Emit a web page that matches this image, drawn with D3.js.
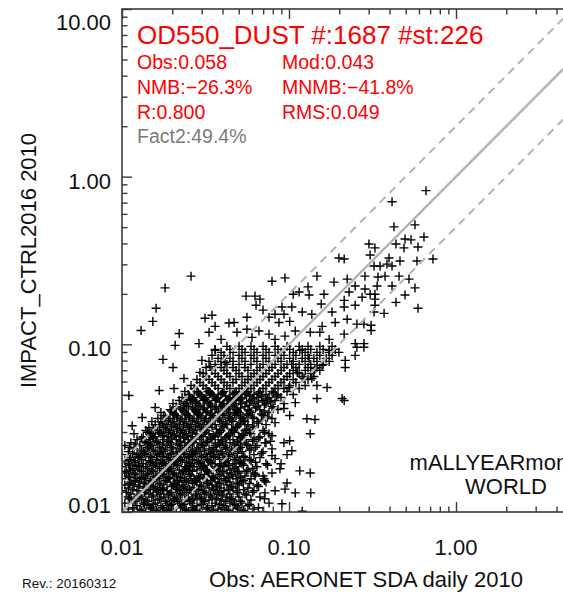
<!DOCTYPE html>
<html>
<head>
<meta charset="utf-8">
<script src="https://cdn.jsdelivr.net/npm/d3@7"></script>
<style>
	body { margin: 0; background: #fff; }
	svg { display: block; font-family: "Liberation Sans", Arial, Helvetica, sans-serif; }
</style>
</head>
<body>
<div id="chart"></div>
<script>
// axis ticks and labels
var majorTicks = [0.01, 0.1, 1, 10];
var tickLabels = ["0.01", "0.10", "1.00", "10.00"];
var minorSteps = [2, 3, 4, 5, 6, 7, 8, 9];

// text blocks
var titleText = "OD550_DUST #:1687 #st:226";
var statsLeft = ["Obs:0.058", "NMB:\u221226.3%", "R:0.800"];
var statsRight = ["Mod:0.043", "MNMB:\u221241.8%", "RMS:0.049"];
var fact2Text = "Fact2:49.4%";
var regionText = ["mALLYEARmonthly", "WORLD"];
var xTitle = "Obs: AERONET SDA daily 2010";
var yTitle = "IMPACT_CTRL2016 2010";
var revText = "Rev.: 20160312";

// 1:1 and factor-2 lines (model = factor * obs)
var refFactors = [1, 2, 0.5];

// scattered stations [obs, mod]
var outerPoints = [
	[0.0259,0.255],[0.0181,0.217],[0.0160,0.164],[0.0153,0.137],[0.0130,0.121],[0.0220,0.116],[0.0314,0.143],
	[0.0346,0.149],[0.0361,0.128],[0.0332,0.118],[0.0392,0.107],[0.0437,0.134],[0.0289,0.101],[0.0208,0.0986],
	[0.0110,0.0495],[0.0176,0.0813],[0.0202,0.0728],
	[0.0791,0.238],[0.0946,0.249],[0.147,0.255],[0.199,0.327],[0.186,0.235],[0.0553,0.194],[0.0626,0.194],
	[0.0670,0.186],[0.0635,0.171],[0.0699,0.160],[0.106,0.199],[0.115,0.205],[0.130,0.220],[0.132,0.197],
	[0.162,0.199],[0.156,0.174],[0.0908,0.167],[0.104,0.167],[0.0825,0.151],[0.0933,0.151],[0.120,0.156],
	[0.137,0.151],[0.0560,0.145],[0.0469,0.135],[0.0759,0.145],[0.0871,0.135],[0.101,0.137],[0.181,0.156],
	[0.189,0.135],[0.158,0.128],[0.0560,0.123],[0.0488,0.118],[0.0661,0.120],[0.0759,0.115],[0.109,0.120],
	[0.134,0.118],[0.153,0.118],[0.174,0.107],[0.0600,0.110],[0.0825,0.107],[0.0946,0.112],
	[0.661,0.825],[0.414,0.709],[0.425,0.502],[0.568,0.516],[0.495,0.425],[0.538,0.420],[0.643,0.437],
	[0.301,0.397],[0.327,0.376],[0.437,0.397],[0.488,0.376],[0.592,0.381],[0.306,0.341],[0.397,0.327],
	[0.462,0.314],[0.584,0.314],[0.728,0.323],[0.214,0.323],[0.323,0.293],[0.351,0.293],[0.386,0.301],
	[0.414,0.293],[0.285,0.255],[0.341,0.252],[0.376,0.255],[0.456,0.255],[0.523,0.245],[0.223,0.245],
	[0.249,0.223],[0.414,0.223],[0.568,0.217],[0.337,0.223],[0.285,0.214],[0.229,0.205],[0.306,0.199],
	[0.327,0.199],[0.495,0.197],[0.274,0.191],[0.327,0.186],[0.214,0.183],[0.437,0.178],[0.249,0.171],
	[0.327,0.171],[0.214,0.167],[0.592,0.164],[0.323,0.156],[0.371,0.153],[0.223,0.141],[0.255,0.132],
	[0.281,0.132],[0.310,0.130],[0.214,0.115],[0.310,0.121],[0.249,0.101],[0.281,0.101],
	[0.249,0.0859],[0.217,0.0802],[0.217,0.0728],[0.214,0.0462],[0.255,0.0960],[0.281,0.0960],
	[0.208,0.0475],[0.147,0.0475],[0.128,0.0360],[0.143,0.0356],[0.134,0.0293],[0.101,0.0266],[0.104,0.0232],
	[0.116,0.0176],[0.134,0.0171],[0.0973,0.0149],[0.109,0.0130],[0.135,0.0130],[0.0946,0.0137],[0.0908,0.0112],
	[0.120,0.0101],[0.0709,0.0158],[0.0718,0.0130],[0.0626,0.0164],[0.0825,0.0208],[0.0933,0.0259],
	[0.0791,0.0217],[0.0883,0.0181],
	[0.169,0.0553],[0.147,0.0568],[0.137,0.0626],[0.123,0.0626],[0.143,0.0718],[0.158,0.0749],[0.174,0.0921],
	[0.199,0.0896],[0.116,0.0921],[0.132,0.0825],[0.104,0.0759],[0.112,0.0680],[0.100,0.0553],[0.109,0.0449],
	[0.0933,0.0414],[0.101,0.0376],[0.0825,0.0341],[0.0791,0.0285],[0.0718,0.0259],
	[0.0167,0.0530],[0.0205,0.0545],[0.0235,0.0626],[0.0158,0.0420],[0.0132,0.0366],[0.0115,0.0327],
	[0.0293,0.0680],[0.0337,0.0738],[0.0301,0.0802],[0.0361,0.0921],[0.0414,0.0780],[0.0255,0.0469],[0.0327,0.0523]
];

// dense core: one modelled value per row, observed values read along it
var coreMod = [0.0100,0.0104,0.0109,0.0113,0.0118,0.0123,0.0128,0.0134,0.0139,0.0145,0.0151,0.0158,0.0164,0.0171,
	0.0178,0.0186,0.0194,0.0202,0.0211,0.0220,0.0229,0.0238,0.0249,0.0259,0.0270,0.0281,0.0293,0.0306,0.0319,
	0.0332,0.0346,0.0361,0.0376,0.0392,0.0408,0.0425,0.0443,0.0462,0.0482,0.0502,0.0523,0.0545,0.0568,0.0592,
	0.0617,0.0643,0.0670,0.0699,0.0728,0.0759,0.0791,0.0825,0.0859,0.0896,0.0933,0.0973];
var coreObs = [
	[0.0118,0.0139,0.0164,0.0186,0.0211,0.0249,0.0293,0.0332,0.0392,0.0462,0.0545,0.0699],
	[0.0109,0.0128,0.0151,0.0178,0.0202,0.0238,0.0270,0.0319,0.0376,0.0425,0.0502,0.0617],
	[0.0123,0.0145,0.0171,0.0194,0.0229,0.0281,0.0346,0.0408,0.0482,0.0568],
	[0.0104,0.0134,0.0158,0.0186,0.0220,0.0259,0.0306,0.0361,0.0443,0.0523,0.0759],
	[0.0118,0.0139,0.0164,0.0202,0.0238,0.0270,0.0332,0.0392,0.0462,0.0592],
	[0.0109,0.0128,0.0151,0.0178,0.0211,0.0249,0.0293,0.0346,0.0425,0.0502,0.0670],
	[0.0113,0.0145,0.0171,0.0194,0.0229,0.0281,0.0319,0.0376,0.0443,0.0545],
	[0.0100,0.0123,0.0139,0.0164,0.0186,0.0220,0.0259,0.0306,0.0361,0.0408,0.0482,0.0617,0.0825],
	[0.0109,0.0134,0.0158,0.0178,0.0211,0.0238,0.0270,0.0332,0.0392,0.0462,0.0568],
	[0.0104,0.0118,0.0145,0.0171,0.0202,0.0229,0.0293,0.0346,0.0425,0.0502,0.0643],
	[0.0113,0.0128,0.0151,0.0186,0.0220,0.0249,0.0281,0.0319,0.0376,0.0443,0.0523,0.0728],
	[0.0100,0.0123,0.0139,0.0164,0.0194,0.0238,0.0270,0.0306,0.0361,0.0408,0.0482,0.0592],
	[0.0109,0.0134,0.0158,0.0178,0.0211,0.0259,0.0293,0.0346,0.0392,0.0462,0.0545,0.0699],
	[0.0104,0.0118,0.0145,0.0171,0.0202,0.0229,0.0332,0.0425,0.0502,0.0617,0.0791],
	[0.0113,0.0128,0.0151,0.0186,0.0220,0.0249,0.0281,0.0319,0.0376,0.0443,0.0568],
	[0.0100,0.0123,0.0139,0.0164,0.0194,0.0238,0.0270,0.0306,0.0361,0.0408,0.0482,0.0643],
	[0.0109,0.0134,0.0158,0.0178,0.0211,0.0259,0.0293,0.0346,0.0392,0.0462,0.0523,0.0728,0.0896],
	[0.0104,0.0118,0.0145,0.0171,0.0202,0.0229,0.0281,0.0332,0.0425,0.0502,0.0592],
	[0.0113,0.0128,0.0151,0.0186,0.0220,0.0249,0.0306,0.0361,0.0408,0.0482,0.0545,0.0670],
	[0.0100,0.0123,0.0139,0.0164,0.0194,0.0238,0.0270,0.0319,0.0376,0.0443,0.0617,0.0973],
	[0.0109,0.0134,0.0158,0.0178,0.0211,0.0259,0.0293,0.0346,0.0392,0.0462,0.0523,0.0699],
	[0.0118,0.0145,0.0171,0.0202,0.0229,0.0281,0.0332,0.0425,0.0502,0.0592,0.0791],
	[0.0104,0.0128,0.0151,0.0186,0.0220,0.0249,0.0306,0.0361,0.0408,0.0482,0.0568,0.0643],
	[0.0113,0.0139,0.0164,0.0194,0.0238,0.0270,0.0319,0.0376,0.0443,0.0523,0.0728],
	[0.0123,0.0145,0.0178,0.0211,0.0249,0.0293,0.0346,0.0392,0.0462,0.0545,0.0617],
	[0.0134,0.0158,0.0186,0.0220,0.0259,0.0306,0.0361,0.0425,0.0502,0.0670],
	[0.0118,0.0151,0.0171,0.0202,0.0238,0.0281,0.0332,0.0376,0.0443,0.0523,0.0592,0.0759],
	[0.0139,0.0164,0.0194,0.0229,0.0270,0.0319,0.0392,0.0462,0.0545,0.0699],
	[0.0145,0.0178,0.0211,0.0249,0.0293,0.0346,0.0408,0.0482,0.0617],
	[0.0158,0.0186,0.0220,0.0259,0.0306,0.0361,0.0425,0.0502,0.0568,0.0728],
	[0.0151,0.0171,0.0202,0.0238,0.0281,0.0332,0.0392,0.0462,0.0545,0.0643],
	[0.0164,0.0194,0.0229,0.0270,0.0319,0.0376,0.0443,0.0523,0.0617,0.0791],
	[0.0178,0.0211,0.0249,0.0293,0.0346,0.0408,0.0482,0.0568,0.0699],
	[0.0171,0.0202,0.0238,0.0281,0.0319,0.0376,0.0443,0.0502,0.0592,0.0759],
	[0.0194,0.0229,0.0270,0.0306,0.0361,0.0425,0.0482,0.0568,0.0670,0.0859],
	[0.0211,0.0249,0.0293,0.0346,0.0392,0.0462,0.0545,0.0643,0.0791],
	[0.0202,0.0238,0.0281,0.0332,0.0408,0.0482,0.0523,0.0617,0.0728,0.0933],
	[0.0220,0.0259,0.0306,0.0361,0.0425,0.0502,0.0592,0.0699,0.0825],
	[0.0229,0.0270,0.0319,0.0376,0.0443,0.0523,0.0643,0.0759,0.0896],
	[0.0249,0.0293,0.0346,0.0392,0.0462,0.0545,0.0617,0.0728,0.0859,0.106],
	[0.0238,0.0281,0.0332,0.0408,0.0482,0.0568,0.0670,0.0791,0.0973],
	[0.0270,0.0319,0.0376,0.0443,0.0502,0.0592,0.0699,0.0825,0.0933,0.115],
	[0.0259,0.0306,0.0361,0.0425,0.0523,0.0617,0.0728,0.0859,0.101,0.125],
	[0.0293,0.0346,0.0408,0.0462,0.0545,0.0643,0.0759,0.0896,0.110],
	[0.0281,0.0332,0.0392,0.0482,0.0568,0.0670,0.0791,0.0933,0.106,0.130],
	[0.0319,0.0376,0.0443,0.0523,0.0592,0.0699,0.0825,0.0973,0.120,0.141],
	[0.0306,0.0361,0.0425,0.0502,0.0617,0.0728,0.0859,0.101,0.115,0.135],
	[0.0346,0.0408,0.0482,0.0568,0.0643,0.0759,0.0896,0.106,0.125,0.153],
	[0.0319,0.0392,0.0462,0.0545,0.0670,0.0791,0.0933,0.110,0.130,0.147],
	[0.0361,0.0425,0.0502,0.0592,0.0699,0.0825,0.0973,0.115,0.135,0.160],
	[0.0332,0.0392,0.0462,0.0545,0.0643,0.0759,0.0896,0.106,0.125,0.147,0.174],
	[0.0376,0.0443,0.0523,0.0617,0.0728,0.0859,0.101,0.120,0.141,0.167],
	[0.0346,0.0408,0.0502,0.0592,0.0699,0.0825,0.0933,0.110,0.130,0.153,0.181],
	[0.0392,0.0462,0.0545,0.0643,0.0759,0.0896,0.106,0.125,0.147,0.174],
	[0.0361,0.0443,0.0523,0.0617,0.0728,0.0859,0.101,0.120,0.135,0.160,0.189],
	[0.0425,0.0502,0.0592,0.0699,0.0825,0.0973,0.115,0.130,0.153,0.181]
];

// second pass over the darkest part of the core, read between the rows above
var innerMod = [0.0102,0.0106,0.0111,0.0116,0.0120,0.0126,0.0131,0.0136,0.0142,0.0148,0.0154,0.0161,0.0168,0.0175,
	0.0182,0.0190,0.0198,0.0206,0.0215,0.0224,0.0234,0.0243,0.0254,0.0264,0.0276,0.0287,0.0299,0.0312,0.0325,
	0.0339,0.0353,0.0368,0.0384,0.0400,0.0417,0.0434,0.0453,0.0472,0.0492,0.0513];
var innerObs = [
	[0.0131,0.0161,0.0190,0.0243,0.0276,0.0353,0.0434,0.0534],
	[0.0116,0.0148,0.0175,0.0224,0.0264,0.0325,0.0400,0.0492,0.0657],
	[0.0136,0.0154,0.0198,0.0234,0.0299,0.0384,0.0472,0.0580],
	[0.0120,0.0142,0.0182,0.0215,0.0254,0.0312,0.0417,0.0513],
	[0.0111,0.0131,0.0168,0.0206,0.0264,0.0299,0.0368,0.0453,0.0713],
	[0.0126,0.0154,0.0190,0.0224,0.0276,0.0339,0.0400,0.0557],
	[0.0106,0.0136,0.0161,0.0198,0.0243,0.0312,0.0384,0.0492,0.0605],
	[0.0116,0.0148,0.0175,0.0215,0.0254,0.0287,0.0353,0.0434,0.0534],
	[0.0126,0.0154,0.0198,0.0234,0.0299,0.0368,0.0453,0.0657],
	[0.0111,0.0136,0.0168,0.0206,0.0264,0.0325,0.0384,0.0492,0.0580],
	[0.0120,0.0148,0.0182,0.0215,0.0243,0.0276,0.0339,0.0417,0.0534,0.0713],
	[0.0111,0.0131,0.0161,0.0190,0.0224,0.0287,0.0353,0.0434,0.0513],
	[0.0120,0.0142,0.0175,0.0206,0.0254,0.0312,0.0384,0.0453,0.0630],
	[0.0106,0.0131,0.0154,0.0190,0.0234,0.0264,0.0325,0.0400,0.0492,0.0557],
	[0.0116,0.0142,0.0168,0.0198,0.0243,0.0299,0.0368,0.0472,0.0605],
	[0.0111,0.0126,0.0154,0.0182,0.0215,0.0254,0.0312,0.0384,0.0434,0.0534,0.0744],
	[0.0120,0.0148,0.0175,0.0206,0.0243,0.0287,0.0339,0.0417,0.0513,0.0630],
	[0.0111,0.0131,0.0161,0.0190,0.0224,0.0264,0.0325,0.0384,0.0472,0.0580],
	[0.0126,0.0148,0.0175,0.0215,0.0254,0.0299,0.0353,0.0434,0.0534],
	[0.0116,0.0136,0.0168,0.0198,0.0234,0.0276,0.0339,0.0400,0.0492,0.0685],
	[0.0131,0.0154,0.0182,0.0224,0.0264,0.0312,0.0368,0.0453,0.0580],
	[0.0111,0.0142,0.0168,0.0198,0.0243,0.0287,0.0353,0.0417,0.0513,0.0630],
	[0.0120,0.0148,0.0175,0.0215,0.0254,0.0299,0.0384,0.0472,0.0557],
	[0.0136,0.0161,0.0190,0.0224,0.0264,0.0325,0.0400,0.0492,0.0605,0.0775],
	[0.0131,0.0154,0.0198,0.0234,0.0276,0.0339,0.0417,0.0513,0.0657],
	[0.0148,0.0175,0.0206,0.0243,0.0299,0.0353,0.0434,0.0534],
	[0.0142,0.0168,0.0190,0.0224,0.0264,0.0312,0.0384,0.0472,0.0580,0.0713],
	[0.0154,0.0182,0.0215,0.0254,0.0299,0.0368,0.0453,0.0557],
	[0.0168,0.0198,0.0234,0.0276,0.0325,0.0400,0.0492,0.0605],
	[0.0175,0.0206,0.0243,0.0287,0.0339,0.0417,0.0513,0.0657],
	[0.0190,0.0224,0.0264,0.0312,0.0384,0.0453,0.0534,0.0685],
	[0.0182,0.0215,0.0254,0.0299,0.0353,0.0434,0.0513,0.0605,0.0744],
	[0.0206,0.0243,0.0287,0.0339,0.0400,0.0472,0.0557,0.0685],
	[0.0198,0.0234,0.0276,0.0325,0.0400,0.0492,0.0580,0.0713],
	[0.0224,0.0264,0.0312,0.0368,0.0434,0.0513,0.0630,0.0808],
	[0.0243,0.0287,0.0339,0.0400,0.0472,0.0580,0.0713],
	[0.0234,0.0276,0.0325,0.0384,0.0453,0.0557,0.0657,0.0775],
	[0.0264,0.0312,0.0368,0.0434,0.0513,0.0605,0.0744],
	[0.0254,0.0299,0.0353,0.0417,0.0492,0.0580,0.0685,0.0842],
	[0.0287,0.0339,0.0400,0.0472,0.0557,0.0657,0.0808]
];

var scatter = function(options){

	var self = {};

	for (var key in options) {
		self[key] = options[key];
	}

	self.init = function(){

		self.svg = d3.select("#" + self.parentId).append("svg")
			.attr("width", self.width)
			.attr("height", self.height);

		self.x = d3.scaleLog().domain([0.01, 10]).range([self.left, self.right]);
		self.y = d3.scaleLog().domain([0.01, 10]).range([self.bottom, self.top]);

		self.svg.append("clipPath").attr("id", "plotclip")
			.append("rect")
			.attr("x", self.left).attr("y", self.top)
			.attr("width", self.right - self.left)
			.attr("height", self.bottom - self.top);
	};

	self.render = function(){

		var x = self.x, y = self.y;

		// flatten the rows of the core into points
		var pts = outerPoints.slice();
		coreMod.forEach(function(m, i) {
			coreObs[i].forEach(function(o) { pts.push([o, m]); });
		});
		innerMod.forEach(function(m, i) {
			innerObs[i].forEach(function(o) { pts.push([o, m]); });
		});

		var plot = self.svg.append("g").attr("clip-path", "url(#plotclip)");

		plot.selectAll("path.pt")
			.data(pts)
			.enter().append("path")
			.attr("class", "pt")
			.attr("d", "M-4.5,0H4.5M0,-4.5V4.5")
			.attr("transform", function(d) { return "translate(" + x(d[0]) + "," + y(d[1]) + ")"; })
			.attr("stroke", "#000")
			.attr("stroke-width", 1.4)
			.attr("fill", "none");

		plot.selectAll("line.ref")
			.data(refFactors)
			.enter().append("line")
			.attr("class", "ref")
			.attr("x1", function(f) { return x(0.001); })
			.attr("y1", function(f) { return y(0.001 * f); })
			.attr("x2", function(f) { return x(100); })
			.attr("y2", function(f) { return y(100 * f); })
			.attr("stroke", "#b3b3b3")
			.attr("stroke-width", function(f) { return f === 1 ? 2.4 : 2; })
			.attr("stroke-dasharray", function(f) { return f === 1 ? null : "8,6"; });

		// ticks, all pointing into the plot
		var minor = [];
		[0.01, 0.1, 1].forEach(function(dec) {
			minorSteps.forEach(function(k) { minor.push(k * dec); });
		});

		var axes = [
			[d3.axisLeft(y), "translate(" + self.left + ",0)"],
			[d3.axisRight(y), "translate(" + self.right + ",0)"],
			[d3.axisBottom(x), "translate(0," + self.bottom + ")"],
			[d3.axisTop(x), "translate(0," + self.top + ")"]
		];
		axes.forEach(function(a) {
			var g1 = self.svg.append("g").attr("transform", a[1])
				.call(a[0].tickValues(majorTicks).tickSize(-10).tickSizeOuter(0).tickFormat(""));
			var g2 = self.svg.append("g").attr("transform", a[1])
				.call(a[0].tickValues(minor).tickSize(-5.5).tickSizeOuter(0).tickFormat(""));
			[g1, g2].forEach(function(g) {
				g.select(".domain").remove();
				g.selectAll("line").attr("stroke", "#3a3a3a").attr("stroke-width", 1.4);
			});
		});

		self.svg.append("rect")
			.attr("x", self.left).attr("y", self.top)
			.attr("width", self.right - self.left)
			.attr("height", self.bottom - self.top)
			.attr("fill", "none")
			.attr("stroke", "#3a3a3a")
			.attr("stroke-width", 1.6);

		// tick labels (only the ones inside the window)
		self.svg.selectAll("text.ylab")
			.data(majorTicks)
			.enter().append("text")
			.attr("class", "ylab")
			.attr("x", self.left - 11)
			.attr("y", function(d) { return Math.max(30, Math.min(513, y(d) + 12)); })
			.attr("text-anchor", "end")
			.attr("font-size", 22)
			.attr("fill", "#111")
			.text(function(d, i) { return tickLabels[i]; });

		self.svg.selectAll("text.xlab")
			.data(majorTicks.filter(function(d) { return x(d) < self.width - 30; }))
			.enter().append("text")
			.attr("class", "xlab")
			.attr("x", function(d) { return x(d); })
			.attr("y", 555)
			.attr("text-anchor", "middle")
			.attr("font-size", 22)
			.attr("fill", "#111")
			.text(function(d, i) { return tickLabels[i]; });

		// axis titles
		self.svg.append("text")
			.attr("x", (self.left + 610) / 2)
			.attr("y", 587)
			.attr("text-anchor", "middle")
			.attr("font-size", 22)
			.attr("fill", "#111")
			.text(xTitle);

		self.svg.append("text")
			.attr("transform", "translate(36," + (self.top + self.bottom) / 2 + ") rotate(-90)")
			.attr("text-anchor", "middle")
			.attr("font-size", 22)
			.attr("fill", "#111")
			.text(yTitle);

		self.svg.append("text")
			.attr("x", 22).attr("y", 588)
			.attr("font-size", 13.5)
			.attr("fill", "#111")
			.text(revText);

		// statistics block
		self.svg.append("text")
			.attr("x", 137).attr("y", 44)
			.attr("font-size", 26)
			.attr("fill", "#ff0000")
			.text(titleText);

		statsLeft.forEach(function(s, i) {
			self.svg.append("text")
				.attr("x", 137).attr("y", 69 + i * 24.8)
				.attr("font-size", 19.5)
				.attr("fill", "#ff0000")
				.text(s);
			self.svg.append("text")
				.attr("x", 282).attr("y", 69 + i * 24.8)
				.attr("font-size", 19.5)
				.attr("fill", "#ff0000")
				.text(statsRight[i]);
		});

		self.svg.append("text")
			.attr("x", 137).attr("y", 143)
			.attr("font-size", 19.5)
			.attr("fill", "#7a7a7a")
			.text(fact2Text);

		// region label runs off the right edge, as in the original
		regionText.forEach(function(s, i) {
			self.svg.append("text")
				.attr("x", 506).attr("y", 470 + i * 24)
				.attr("text-anchor", "middle")
				.attr("font-size", 22)
				.attr("fill", "#111")
				.text(s);
		});
	};

	self.init();
	return self;
};

var dustplot = scatter({
	parentId: "chart",
	width: 563,
	height: 593,
	left: 122,
	right: 623,
	top: 9,
	bottom: 512
});

dustplot.render();
</script>
</body>
</html>
